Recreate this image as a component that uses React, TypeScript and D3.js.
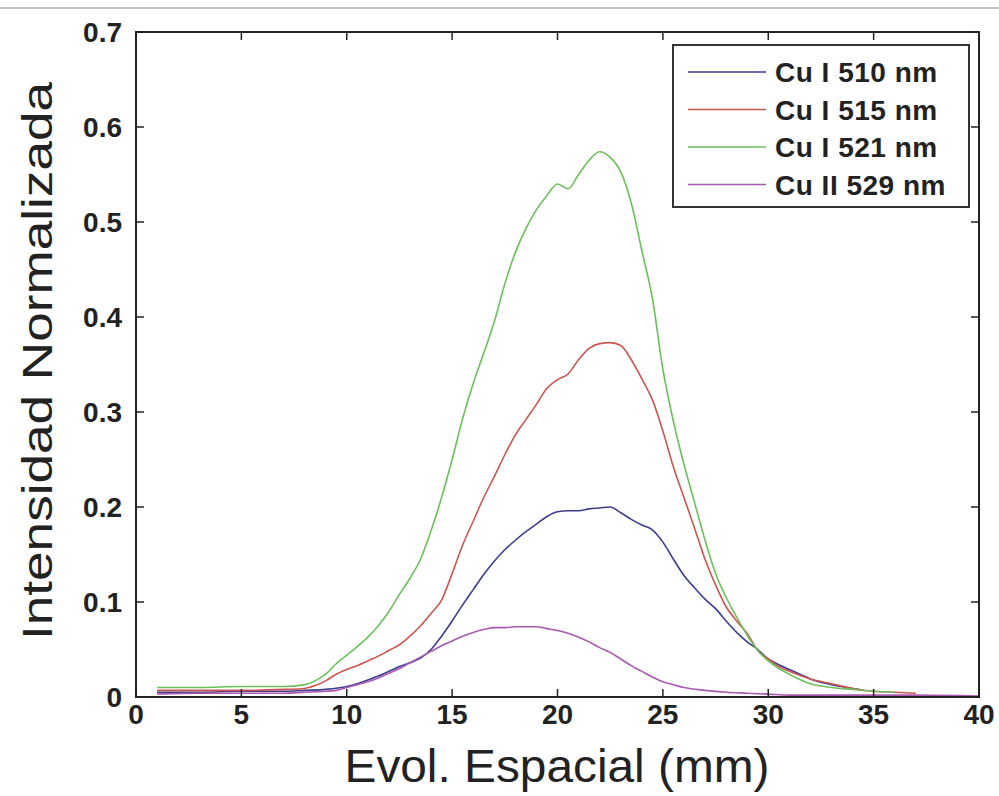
import React from "react";
import * as d3 from "d3";

const xTicks = [0, 5, 10, 15, 20, 25, 30, 35, 40];
const yTicks = [0, 0.1, 0.2, 0.3, 0.4, 0.5, 0.6, 0.7];
const yTickLabels = ["0", "0.1", "0.2", "0.3", "0.4", "0.5", "0.6", "0.7"];

const seriesNames = ["Cu I 510 nm", "Cu I 515 nm", "Cu I 521 nm", "Cu II 529 nm"];
const seriesColors = ["#3d3d90", "#cc5550", "#6cc05c", "#a95aae"];

const blueX = [1, 3, 5, 7, 8, 9, 10, 10.5, 11, 11.5, 12, 12.5, 13, 13.5, 14, 14.5, 15, 15.5, 16, 16.5, 17, 17.5, 18, 18.5, 19, 19.5, 20, 20.5, 21, 21.5, 22, 22.5, 23, 23.5, 24, 24.5, 25, 25.5, 26, 26.5, 27, 27.5, 28, 28.5, 29, 29.5, 30, 30.5, 31, 31.5, 32, 33, 34, 34.5];
const blueY = [0.005, 0.005, 0.006, 0.006, 0.007, 0.008, 0.011, 0.014, 0.018, 0.022, 0.027, 0.032, 0.036, 0.041, 0.05, 0.064, 0.08, 0.097, 0.113, 0.129, 0.143, 0.155, 0.165, 0.174, 0.182, 0.19, 0.195, 0.196, 0.196, 0.198, 0.199, 0.2, 0.194, 0.187, 0.181, 0.176, 0.163, 0.145, 0.128, 0.115, 0.103, 0.093, 0.08, 0.068, 0.058, 0.05, 0.04, 0.034, 0.029, 0.024, 0.019, 0.013, 0.009, 0.007];

const redX = [1, 3, 5, 7, 8, 8.5, 9, 9.5, 10, 10.5, 11, 11.5, 12, 12.5, 13, 13.5, 14, 14.5, 15, 15.5, 16, 16.5, 17, 17.5, 18, 18.5, 19, 19.5, 20, 20.5, 21, 21.5, 22, 22.5, 23, 23.5, 24, 24.5, 25, 25.5, 26, 26.5, 27, 27.5, 28, 28.5, 29, 29.5, 30, 30.5, 31, 32, 33, 34, 35, 36, 37];
const redY = [0.007, 0.007, 0.007, 0.008, 0.009, 0.012, 0.017, 0.024, 0.029, 0.033, 0.038, 0.043, 0.049, 0.055, 0.064, 0.075, 0.088, 0.102, 0.13, 0.16, 0.185, 0.21, 0.232, 0.255, 0.276, 0.292, 0.308, 0.325, 0.334, 0.34, 0.355, 0.367, 0.372, 0.373, 0.37, 0.355, 0.335, 0.313, 0.28, 0.242, 0.21, 0.178, 0.145, 0.118, 0.095, 0.08, 0.067, 0.049, 0.04, 0.032, 0.027, 0.019, 0.014, 0.009, 0.006, 0.005, 0.004];

const greenX = [1, 3, 5, 7, 8, 8.5, 9, 9.5, 10, 10.5, 11, 11.5, 12, 12.5, 13, 13.5, 14, 14.5, 15, 15.5, 16, 16.5, 17, 17.5, 18, 18.5, 19, 19.5, 20, 20.5, 21, 21.5, 22, 22.5, 23, 23.5, 24, 24.5, 25, 25.5, 26, 26.5, 27, 27.5, 28, 28.5, 29, 29.5, 30, 30.5, 31, 32, 33, 34, 35, 36];
const greenY = [0.01, 0.01, 0.011, 0.011, 0.013, 0.017, 0.024, 0.035, 0.044, 0.053, 0.063, 0.075, 0.09, 0.108, 0.125, 0.145, 0.175, 0.21, 0.25, 0.293, 0.33, 0.362, 0.395, 0.435, 0.468, 0.493, 0.513, 0.528, 0.54, 0.535, 0.55, 0.565, 0.574, 0.568, 0.553, 0.52, 0.47, 0.42, 0.345, 0.29, 0.245, 0.205, 0.165, 0.13, 0.105, 0.084, 0.065, 0.049, 0.038, 0.03, 0.024, 0.014, 0.01, 0.008, 0.006, 0.005];

const purpleX = [1, 3, 5, 7, 8, 9, 9.5, 10, 10.5, 11, 11.5, 12, 12.5, 13, 13.5, 14, 14.5, 15, 15.5, 16, 16.5, 17, 17.5, 18, 18.5, 19, 19.5, 20, 20.5, 21, 21.5, 22, 22.5, 23, 23.5, 24, 24.5, 25, 25.5, 26, 27, 28, 29, 30, 31, 33, 35, 37, 40];
const purpleY = [0.003, 0.004, 0.004, 0.004, 0.005, 0.006, 0.007, 0.01, 0.013, 0.016, 0.02, 0.025, 0.03, 0.036, 0.042, 0.048, 0.054, 0.059, 0.064, 0.068, 0.071, 0.073, 0.073, 0.074, 0.074, 0.074, 0.072, 0.07, 0.067, 0.063, 0.058, 0.052, 0.047, 0.04, 0.033, 0.027, 0.021, 0.016, 0.013, 0.01, 0.007, 0.005, 0.004, 0.003, 0.002, 0.002, 0.002, 0.002, 0.001];

const seriesX = [blueX, redX, greenX, purpleX];
const seriesY = [blueY, redY, greenY, purpleY];

export default function App() {
  const W = 999;
  const H = 796;
  const left = 136;
  const right = 979;
  const top = 32;
  const bottom = 697;
  const x = d3.scaleLinear().domain([0, 40]).range([left, right]);
  const y = d3.scaleLinear().domain([0, 0.7]).range([bottom, top]);
  const line = d3
    .line<[number, number]>()
    .x((d) => x(d[0]))
    .y((d) => y(d[1]))
    .curve(d3.curveMonotoneX);
  const tickLen = 8;
  const font = "'Liberation Sans', Arial, sans-serif";

  return (
    <svg width={W} height={H} style={{ position: "absolute", left: 0, top: 0, background: "#fff" }}>
      <rect x={0} y={0} width={W} height={H} fill="#fff" />
      <line x1={0} x2={W} y1={8} y2={8} stroke="#c4c4c4" strokeWidth={2} />
      {seriesX.map((xs, i) => (
        <path
          key={i}
          d={line(xs.map((v, j) => [v, seriesY[i][j]] as [number, number])) || ""}
          fill="none"
          stroke={seriesColors[i]}
          strokeWidth={1.6}
        />
      ))}
      <rect x={left} y={top} width={right - left} height={bottom - top} fill="none" stroke="#222" strokeWidth={2} />
      {xTicks.map((t) => (
        <g key={"xt" + t}>
          <line x1={x(t)} x2={x(t)} y1={bottom} y2={bottom - tickLen} stroke="#222" strokeWidth={1.5} />
          <line x1={x(t)} x2={x(t)} y1={top} y2={top + tickLen} stroke="#222" strokeWidth={1.5} />
          <text x={x(t)} y={724} textAnchor="middle" fontFamily={font} fontWeight="bold" fontSize={28} fill="#222">
            {t}
          </text>
        </g>
      ))}
      {yTicks.map((t, i) => (
        <g key={"yt" + t}>
          <line x1={left} x2={left + tickLen} y1={y(t)} y2={y(t)} stroke="#222" strokeWidth={1.5} />
          <line x1={right} x2={right - tickLen} y1={y(t)} y2={y(t)} stroke="#222" strokeWidth={1.5} />
          <text x={122} y={y(t) + 10} textAnchor="end" fontFamily={font} fontWeight="bold" fontSize={28} fill="#222">
            {yTickLabels[i]}
          </text>
        </g>
      ))}
      <text
        transform={`translate(52,361) rotate(-90)`}
        textAnchor="middle"
        fontFamily={font}
        fontSize={42}
        textLength={558}
        lengthAdjust="spacingAndGlyphs"
        fill="#222"
      >
        Intensidad Normalizada
      </text>
      <text
        x={557}
        y={782}
        textAnchor="middle"
        fontFamily={font}
        fontSize={46}
        textLength={425}
        lengthAdjust="spacingAndGlyphs"
        fill="#222"
      >
        Evol. Espacial (mm)
      </text>
      <g>
        <rect x={673} y={45} width={296} height={162} fill="#fff" stroke="#333" strokeWidth={2} />
        {seriesNames.map((n, i) => (
          <g key={n}>
            <line x1={688} x2={766} y1={72 + i * 37.5} y2={72 + i * 37.5} stroke={seriesColors[i]} strokeWidth={1.6} />
            <text x={775} y={72 + i * 37.5 + 10} fontFamily={font} fontWeight="bold" fontSize={28} letterSpacing={0.5} fill="#222">
              {n}
            </text>
          </g>
        ))}
      </g>
    </svg>
  );
}
